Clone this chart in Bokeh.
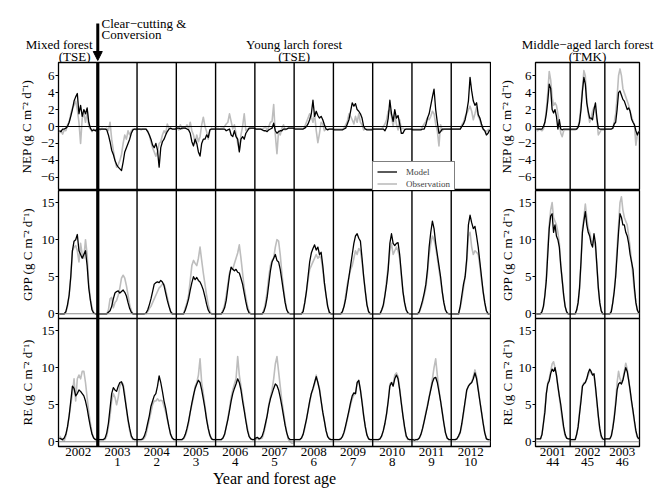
from bokeh.plotting import figure
from bokeh.models import (Range1d, LinearAxis, FixedTicker, Span, Arrow,
                          NormalHead, Legend, LegendItem)
from bokeh.core.properties import value
from bokeh.layouts import row, column
from bokeh.embed import file_html
from bokeh.resources import INLINE

FONT = "Liberation Serif"

# ---------------- data (24 semi-monthly values per year) ----------------
TSE_YEARS = [2002, 2003, 2004, 2005, 2006, 2007, 2008, 2009, 2010, 2011, 2012]
TSE_AGES = ["", "1", "2", "3", "4", "5", "6", "7", "8", "9", "10"]
TMK_YEARS = [2001, 2002, 2003]
TMK_AGES = ["44", "45", "46"]

NEP_MOD_TSE = [
    [-0.5,-0.6,-0.3,-0.3,-0.2,0.0,0.5,1.2,2.0,3.0,3.5,3.9,1.5,2.5,1.2,2.0,1.5,2.2,0.5,-0.2,-0.5,-0.4,-0.5,-0.3],
    [-0.3,-0.3,-0.3,-0.3,-0.3,-0.4,-1.0,-1.8,-2.8,-3.3,-4.0,-4.5,-4.8,-5.0,-5.2,-4.2,-3.0,-2.5,-2.0,-1.5,-0.8,-0.4,-0.3,-0.3],
    [-0.3,-0.3,-0.3,-0.3,-0.3,-0.3,-0.6,-1.0,-1.5,-2.2,-2.5,-2.0,-2.8,-4.8,-2.5,-1.8,-1.5,-1.0,-0.6,-0.3,-0.2,-0.3,-0.3,-0.3],
    [-0.2,-0.2,-0.3,-0.2,-0.2,-0.2,-0.3,-0.4,-0.8,-1.8,-2.3,-1.5,-2.0,-3.0,-3.5,-2.0,-1.5,-1.5,-1.0,-1.3,-0.4,-0.3,-0.3,-0.3],
    [-0.3,-0.3,-0.3,-0.3,-0.3,-0.3,-0.5,-0.4,-0.3,-1.0,-1.2,-0.5,-1.2,-1.5,-3.0,-1.5,-1.2,-1.5,-0.8,-0.5,-0.2,-0.2,-0.2,-0.2],
    [-0.3,-0.3,-0.3,-0.3,-0.4,-0.5,-0.5,-0.6,-0.4,-0.3,-0.2,0.4,-0.5,-0.8,-0.6,-0.5,-0.5,-0.3,-0.3,-0.3,-0.2,-0.2,-0.2,-0.2],
    [-0.3,-0.3,-0.3,-0.3,-0.3,-0.3,-0.2,0.0,0.3,0.8,1.5,3.1,1.2,1.8,1.3,1.0,1.2,0.8,0.2,-0.3,-0.4,-0.3,-0.3,-0.3],
    [-0.4,-0.4,-0.4,-0.4,-0.4,-0.4,-0.3,-0.2,0.3,0.8,1.8,2.8,2.4,2.7,2.0,1.8,1.5,1.0,0.0,-0.3,-0.4,-0.4,-0.4,-0.4],
    [-0.3,-0.3,-0.3,-0.3,-0.3,-0.3,-0.3,-0.5,-0.1,1.0,3.1,1.5,0.6,2.0,1.0,1.3,0.3,-0.8,-0.8,-0.4,-0.3,-0.3,-0.3,-0.3],
    [-0.4,-0.4,-0.4,-0.4,-0.4,-0.4,-0.3,-0.3,0.2,1.0,1.5,2.5,3.5,4.4,2.0,0.5,-0.8,-0.6,-0.3,-0.3,-0.3,-0.3,-0.3,-0.3],
    [-0.3,-0.3,-0.3,-0.3,-0.3,-0.3,0.0,0.3,0.8,1.8,3.0,5.8,4.2,3.0,2.5,2.8,1.4,1.0,0.3,-0.3,-0.5,-1.0,-0.8,-0.4],
]
NEP_OBS_TSE = [
    [-0.8,-0.5,-0.9,-0.4,-0.5,0.2,0.5,1.5,2.2,2.5,3.0,2.0,0.5,-2.0,1.0,1.5,0.5,1.8,0.0,-0.3,-0.6,-0.3,-0.5,-0.6],
    [-0.3,-0.4,-0.2,-0.3,-0.3,-0.2,-0.5,0.5,-1.5,-2.8,-4.0,-4.8,-4.5,-4.0,-3.3,-2.0,-1.0,-1.5,-0.5,-1.0,-0.5,-0.3,-0.3,-0.4],
    [-0.3,-0.3,-0.4,-0.3,-0.3,-0.3,-0.5,-1.0,-1.8,-2.5,-3.0,-3.5,-3.0,-2.0,-1.8,-1.0,-0.5,-0.8,0.3,-0.2,-0.3,-0.3,-0.3,-0.3],
    [-0.2,-0.4,0.2,-0.3,-0.1,-0.2,0.2,-0.3,0.5,-0.5,-1.0,-2.0,-1.0,-1.8,-1.2,0.2,1.1,0.0,-0.6,-1.5,-0.5,-0.2,-0.3,-0.2],
    [-0.2,-0.2,-0.3,-0.2,-0.2,0.0,0.3,0.5,1.5,0.6,-0.3,0.2,-0.8,-2.0,-2.8,-1.0,0.0,1.5,-0.5,-0.3,-0.3,-0.2,-0.2,-0.2],
    [-0.3,-0.3,-0.3,-0.3,-0.3,-0.2,0.0,-0.5,0.0,0.5,0.6,2.6,-1.0,-3.2,-0.5,-1.0,-0.2,0.2,-0.4,-0.3,-0.2,-0.2,-0.2,-0.2],
    [-0.2,-0.2,-0.2,-0.2,-0.2,-0.3,0.0,0.5,1.0,1.5,1.2,0.5,1.5,-0.5,-1.9,-0.8,0.5,0.3,-0.5,-0.3,-0.3,-0.3,-0.3,-0.3],
    [-0.3,-0.3,-0.3,-0.3,-0.3,-0.3,-0.2,0.2,0.6,1.5,1.2,0.8,0.3,1.2,0.5,1.5,0.5,0.2,-0.4,-0.3,-0.3,-0.3,-0.3,-0.3],
    [-0.3,-0.3,-0.3,-0.3,-0.3,-0.3,0.0,0.3,0.8,1.8,2.0,1.2,0.0,1.5,0.3,-0.4,0.8,-0.3,-0.2,-0.3,-0.3,-0.3,-0.3,-0.3],
    [-0.3,-0.3,-0.3,-0.3,-0.3,-0.3,0.0,0.3,0.6,1.0,0.8,1.2,1.8,1.5,0.3,-0.5,-2.3,0.2,-0.5,-0.3,-0.3,-0.3,-0.3,-0.3],
    [-0.3,-0.3,-0.3,-0.3,-0.3,-0.3,0.2,0.5,1.2,1.5,2.0,2.4,1.8,0.8,1.5,2.3,1.2,0.8,0.0,-0.3,-0.5,-0.6,-0.4,-0.3],
]
GPP_MOD_TSE = [
    [0,0,0,0,0.3,1.2,2.5,5.0,8.5,9.8,10.0,10.7,8.5,8.0,7.5,8.0,8.5,6.5,3.5,1.8,0.5,0.1,0,0],
    [0,0,0,0,0,0,0.2,0.4,1.0,2.0,2.8,3.0,3.1,2.8,3.0,3.2,2.9,2.4,1.5,0.7,0.2,0,0,0],
    [0,0,0,0,0,0.1,0.5,1.2,2.0,3.0,4.0,4.2,4.3,4.2,4.5,4.3,3.8,2.8,1.8,1.0,0.3,0,0,0],
    [0,0,0,0,0,0.5,1.2,2.0,3.2,4.2,5.0,4.6,4.9,4.5,4.3,3.8,3.2,2.3,1.3,0.5,0.1,0,0,0],
    [0,0,0,0,0.3,0.8,1.8,3.5,5.2,6.3,6.0,5.8,6.0,5.6,5.5,4.8,4.0,2.8,1.6,0.6,0.1,0,0,0],
    [0,0,0,0,0,0.3,1.0,2.2,4.0,5.8,7.0,7.5,8.0,7.2,7.0,6.0,4.5,3.0,1.5,0.5,0.1,0,0,0],
    [0,0,0,0,0,0.3,1.5,3.0,5.0,7.0,8.2,8.8,9.3,8.6,9.0,8.0,8.3,6.5,4.2,2.5,1.0,0.2,0,0],
    [0,0,0,0,0,0.3,1.0,2.0,3.5,5.0,6.5,8.0,9.5,10.5,10.8,10.2,9.8,7.5,5.0,3.0,1.2,0.3,0,0],
    [0,0,0,0,0,0.5,1.2,2.5,4.0,6.0,9.5,10.8,9.5,9.2,9.5,9.6,8.0,5.5,3.0,1.5,0.5,0.1,0,0],
    [0,0,0,0,0.3,1.0,1.8,2.8,4.0,6.0,9.0,11.0,12.5,11.5,9.5,8.0,6.5,5.0,3.0,1.5,0.5,0.1,0,0],
    [0,0,0,0,0,1.0,2.5,4.0,5.0,7.5,12.0,13.3,12.3,11.5,11.8,10.5,9.0,7.0,5.0,3.0,1.5,0.4,0,0],
]
GPP_OBS_TSE = [
    [0,0,0,0,0.2,1.0,2.5,5.0,8.5,9.0,9.2,8.5,7.0,9.5,8.0,7.5,10.0,8.0,4.0,2.0,0.8,0.1,0,0],
    [0,0,0,0,0,0,0.5,2.0,2.2,0.8,1.5,1.8,2.5,3.5,4.8,5.2,4.8,3.8,2.5,1.2,0.4,0,0,0],
    [0,0,0,0,0,0,0.3,0.7,1.0,1.5,2.0,2.5,3.0,3.5,3.7,4.0,4.0,3.2,2.2,1.2,0.4,0,0,0],
    [0,0,0,0,0,0.8,1.5,2.5,4.5,6.5,7.2,6.8,6.5,7.5,9.0,7.2,5.5,4.0,2.5,1.2,0.3,0,0,0],
    [0,0,0,0,0.5,1.2,2.5,4.0,5.5,6.2,6.0,6.8,7.5,8.2,9.3,7.5,5.5,3.5,2.2,1.0,0.3,0,0,0],
    [0,0,0,0,0,0.5,1.5,3.0,5.0,6.5,7.2,7.5,9.0,10.0,9.8,8.0,5.5,3.5,1.8,0.6,0.1,0,0,0],
    [0,0,0,0,0,0.5,1.5,3.0,4.5,6.0,6.5,7.0,7.5,8.0,7.5,7.8,7.5,6.0,4.0,2.5,1.0,0.2,0,0],
    [0,0,0,0,0,0.3,1.0,2.5,4.0,5.0,6.0,6.5,7.5,8.5,8.0,8.8,8.5,7.0,5.0,3.0,1.2,0.3,0,0],
    [0,0,0,0,0,0.5,1.0,2.5,4.5,6.5,8.5,9.5,8.0,8.5,9.0,8.5,7.5,5.0,3.0,1.5,0.5,0.1,0,0],
    [0,0,0,0,0.2,0.8,1.5,2.5,3.5,5.5,8.0,9.5,10.5,10.0,9.0,7.5,6.0,4.5,3.0,1.5,0.5,0.1,0,0],
    [0,0,0,0,0,0.8,2.0,3.5,5.0,7.0,10.5,11.0,9.0,8.0,8.5,8.3,8.0,6.5,4.5,3.0,1.5,0.4,0,0],
]
RE_MOD_TSE = [
    [0.5,0.4,0.3,0.5,1.0,2.0,3.5,5.5,7.5,7.2,6.2,6.5,7.0,6.8,6.5,6.2,5.5,4.5,3.2,2.0,1.0,0.5,0.3,0.3],
    [0.3,0.3,0.3,0.3,0.5,1.2,2.5,4.5,6.5,7.3,7.0,6.8,7.5,8.0,8.1,7.5,6.0,4.5,3.0,1.8,0.8,0.4,0.3,0.3],
    [0.3,0.3,0.3,0.4,0.8,1.5,2.5,3.5,4.8,5.5,6.2,6.5,7.5,8.9,8.0,6.8,5.5,4.5,3.2,2.0,1.0,0.5,0.3,0.3],
    [0.3,0.3,0.3,0.3,0.5,1.0,1.8,2.8,4.0,5.2,6.3,7.2,7.8,8.3,8.0,7.0,5.8,4.5,3.0,1.8,0.9,0.4,0.3,0.3],
    [0.3,0.3,0.3,0.3,0.5,1.0,2.0,3.0,4.2,5.5,6.5,7.2,7.8,8.5,8.0,7.0,5.5,4.2,2.8,1.5,0.7,0.4,0.3,0.3],
    [0.5,0.6,0.4,0.5,0.8,1.5,2.5,3.5,4.8,5.8,6.5,7.2,7.8,7.6,7.0,6.0,4.8,3.5,2.2,1.2,0.5,0.3,0.3,0.3],
    [0.3,0.3,0.3,0.3,0.5,1.0,2.0,3.0,4.2,5.5,6.5,7.2,8.0,8.8,8.0,7.0,5.5,4.0,2.8,1.5,0.7,0.4,0.3,0.3],
    [0.3,0.3,0.3,0.3,0.4,0.7,1.3,2.2,3.2,4.2,5.3,6.2,6.6,6.5,8.0,8.3,7.0,5.3,3.5,2.0,0.9,0.4,0.3,0.3],
    [0.3,0.3,0.3,0.3,0.4,0.8,1.5,2.5,3.8,5.5,7.5,8.0,7.5,8.5,9.0,8.5,7.0,5.2,3.5,2.0,0.8,0.4,0.3,0.3],
    [0.3,0.2,0.3,0.3,0.5,1.0,1.8,2.8,3.8,4.8,6.0,7.0,8.0,8.6,8.7,8.0,6.8,5.5,4.0,2.5,1.2,0.5,0.3,0.3],
    [0.3,0.3,0.3,0.4,0.8,1.3,2.5,4.0,5.5,7.0,7.5,7.8,8.0,8.5,9.3,8.5,7.0,5.5,4.0,2.5,1.2,0.4,0.3,0.3],
]
RE_OBS_TSE = [
    [0.8,0.5,0.2,0.1,0.8,2.0,3.5,5.0,6.5,8.5,5.5,8.5,9.0,8.5,9.5,9.5,8.0,6.0,4.0,2.5,1.2,0.5,0.3,0.4],
    [0.3,0.3,0.3,0.3,0.3,0.8,2.0,3.5,5.5,6.5,6.0,5.0,6.0,7.5,8.0,7.8,6.5,4.5,2.8,1.5,0.6,0.3,0.3,0.3],
    [0.3,0.3,0.3,0.3,0.5,1.0,2.0,3.0,4.0,5.0,5.5,5.5,5.8,5.5,5.6,5.5,4.8,4.0,3.0,2.0,1.0,0.5,0.3,0.3],
    [0.3,0.3,0.3,0.3,0.4,0.8,1.5,2.5,4.0,5.0,6.0,7.5,8.0,9.0,11.2,8.0,6.5,4.8,3.2,1.8,0.8,0.4,0.3,0.3],
    [0.3,0.3,0.3,0.3,0.5,1.0,2.0,3.2,4.5,6.0,7.0,7.8,8.5,11.5,9.0,7.5,6.0,4.5,3.0,1.8,0.8,0.4,0.3,0.3],
    [0.3,0.5,0.3,0.4,0.5,1.2,2.2,3.5,5.0,6.0,7.0,8.5,10.5,11.5,9.5,7.5,5.5,4.0,2.5,1.2,0.3,0.0,-0.2,-0.2],
    [0.3,0.3,0.3,0.3,0.5,1.0,1.8,3.0,4.2,5.3,6.5,7.0,7.8,9.0,8.0,7.2,5.5,4.0,2.8,1.5,0.7,0.4,0.3,0.3],
    [0.3,0.3,0.3,0.3,0.4,0.7,1.2,2.0,3.0,4.0,5.0,5.8,6.3,6.5,7.8,8.2,7.0,5.5,3.5,2.0,0.9,0.4,0.3,0.3],
    [0.3,0.3,0.3,0.3,0.4,0.8,1.5,2.5,3.8,5.5,7.8,8.0,7.8,9.0,9.3,8.8,7.2,5.3,3.5,1.8,0.7,0.3,0.3,0.3],
    [0.3,0.3,0.3,0.3,0.5,1.0,1.8,2.8,4.0,5.0,6.0,7.2,8.5,10.0,11.2,9.0,7.0,5.5,4.0,2.5,1.2,0.5,0.3,0.3],
    [0.3,0.3,0.3,0.4,0.7,1.2,2.3,3.8,5.3,7.0,7.5,7.8,8.0,8.8,9.7,8.8,7.2,5.5,4.0,2.5,1.2,0.4,0.3,0.3],
]

NEP_MOD_TMK = [
    [-0.3,-0.3,-0.3,-0.3,-0.3,0.0,0.5,1.5,3.0,5.0,4.5,2.0,1.6,2.0,1.2,-0.3,0.8,-0.3,-0.4,-0.3,-0.3,-0.3,-0.3,-0.3],
    [-0.3,-0.3,-0.3,-0.3,-0.3,-0.1,0.5,2.0,4.2,5.8,5.0,2.8,1.8,1.0,1.0,0.8,2.0,2.8,1.0,-0.2,-0.3,-0.3,-0.3,-0.3],
    [-0.3,-0.3,-0.3,-0.3,-0.3,-0.2,0.3,0.5,2.0,4.0,4.2,3.7,3.2,3.0,2.5,2.0,2.2,1.8,0.9,0.5,0.2,-0.5,-1.0,-0.6],
]
NEP_OBS_TMK = [
    [-0.4,-0.5,-0.3,-0.4,-0.5,-0.3,0.5,2.0,4.0,6.5,5.5,3.5,2.5,2.8,2.5,1.5,0.5,-0.8,-1.2,-0.5,-0.4,-0.4,-0.4,-0.4],
    [-0.4,-0.4,-0.4,-0.4,-0.3,0.0,0.8,2.5,4.5,6.6,6.0,3.0,1.5,0.5,1.0,1.8,2.3,2.0,0.8,-1.0,-0.7,-0.4,-0.4,-0.4],
    [-0.3,-0.3,-0.3,-0.3,-0.3,-0.2,0.5,1.5,3.5,6.0,6.8,6.0,4.5,4.0,3.5,3.0,2.5,1.8,1.2,0.6,0.2,-2.2,-1.0,-0.5],
]
GPP_MOD_TMK = [
    [0,0,0,0,0.3,1.0,2.5,4.5,8.0,11.5,13.2,13.5,11.0,12.0,10.5,10.0,9.0,6.5,4.5,2.5,1.0,0.3,0,0],
    [0,0,0,0,0.5,1.5,3.5,7.0,11.0,12.5,13.8,12.0,11.0,10.5,9.5,9.0,10.8,9.5,6.5,3.5,1.5,0.4,0,0],
    [0,0,0,0,0.3,1.5,3.0,5.0,8.0,11.0,13.5,13.0,12.0,12.0,11.0,10.5,9.5,8.0,7.0,6.0,3.5,1.5,0.5,0.1],
]
GPP_OBS_TMK = [
    [0,0,0,0,0.3,1.0,2.5,5.0,9.0,12.0,14.0,15.0,13.0,12.5,12.0,11.0,9.5,6.5,4.5,2.5,1.0,0.3,0,0],
    [0,0,0,0,0.5,1.5,3.5,7.0,11.5,13.0,14.8,13.0,11.5,11.0,10.0,9.5,10.0,9.0,6.5,3.5,1.5,0.4,0,0],
    [0,0,0,0,0.5,1.5,3.0,5.5,9.0,12.0,15.0,15.8,14.0,13.0,12.5,12.0,10.5,9.0,7.0,5.0,3.0,1.5,0.5,0.1],
]
RE_MOD_TMK = [
    [0.4,0.4,0.4,0.4,1.0,2.5,4.0,6.5,7.8,8.2,9.2,9.8,9.5,10.0,9.0,7.5,6.2,5.0,3.5,2.0,1.0,0.5,0.4,0.4],
    [0.3,0.3,0.3,0.3,1.0,2.0,3.8,5.5,7.5,7.8,8.0,8.5,9.3,9.8,9.5,9.0,9.2,7.5,5.5,3.5,1.8,0.8,0.4,0.3],
    [0.4,0.4,0.4,0.4,0.8,1.8,3.2,5.0,7.0,7.8,8.0,7.8,8.3,9.2,10.0,9.5,8.3,7.0,5.5,4.2,2.8,1.5,0.7,0.4],
]
RE_OBS_TMK = [
    [0.4,0.4,0.4,0.4,1.0,2.5,4.5,6.5,8.0,8.5,9.5,10.5,10.8,10.0,9.0,7.5,6.0,4.5,3.0,1.8,0.8,0.5,0.4,0.4],
    [0.3,0.3,0.3,0.3,1.0,2.0,4.0,6.0,7.5,8.0,8.0,8.5,9.0,9.5,9.3,9.0,9.0,7.3,5.3,3.3,1.6,0.6,0.3,0.3],
    [0.4,0.4,0.4,0.4,0.8,2.0,3.5,5.5,8.0,9.5,8.5,8.0,8.5,9.5,10.6,9.8,8.5,6.8,5.3,4.0,2.6,1.3,0.6,0.3],
]

NEP_TICKS = [-6, -4, -2, 0, 2, 4, 6]
FLUX_TICKS = [0, 5, 10, 15]
NEP_LABEL = "NEP (g C m\u207b\u00b2 d\u207b\u00b9)"
GPP_LABEL = "GPP (g C m\u207b\u00b2 d\u207b\u00b9)"
RE_LABEL = "RE (g C m\u207b\u00b2 d\u207b\u00b9)"

# ---------------- styling / geometry ----------------
MOD_COLOR = "black"
OBS_COLOR = "#bdbdbd"
FH = 128
TITLE_H = 67          # title strip; its lowest 6 px lie under the NEP row
TITLE_OVERLAP = 6
BOT_B = 44
NEP_LIM = (-7.56, 7.56)
FLUX_LIM = (-0.64, 16.64)
GEOM = {  # frame width, x range, left border, right border, y-label standoff
    "TSE": (432, 2002, 2013, 58, 1, 4),
    "TMK": (104, 2001, 2004, 44, 15, 1),
}


def series_xy(years, values):
    xs, ys = [], []
    for yr, vals in zip(years, values):
        n = len(vals)
        for i, v in enumerate(vals):
            xs.append(yr + (i + 0.5) / n)
            ys.append(v)
    return xs, ys


def add_y_axis(p, ticks, label, overrides, standoff):
    ax = LinearAxis(ticker=FixedTicker(ticks=ticks), axis_label=label)
    ax.major_label_overrides = overrides
    ax.axis_line_color = None
    ax.major_tick_line_color = "black"
    ax.major_tick_in = 0
    ax.major_tick_out = 3
    ax.minor_tick_line_color = None
    ax.major_label_standoff = 1
    ax.major_label_text_font = FONT
    ax.major_label_text_font_size = "13px"
    ax.major_label_text_color = "black"
    ax.axis_label_text_font = FONT
    ax.axis_label_text_font_size = "13px"
    ax.axis_label_text_font_style = "normal"
    ax.axis_label_text_color = "black"
    ax.axis_label_standoff = standoff
    p.add_layout(ax, "left")


def add_x_axes(p, years, ages, title=None):
    ax1 = LinearAxis(ticker=FixedTicker(ticks=[y + 0.5 for y in years]))
    ax1.major_label_overrides = {y + 0.5: str(y) for y in years}
    ticks2 = [y + 0.5 for y, a in zip(years, ages) if a]
    ax2 = LinearAxis(ticker=FixedTicker(ticks=ticks2))
    ax2.major_label_overrides = {y + 0.5: a for y, a in zip(years, ages) if a}
    for ax, so in ((ax1, 1), (ax2, -1)):
        ax.axis_line_color = None
        ax.major_tick_line_color = None
        ax.minor_tick_line_color = None
        ax.major_tick_in = 0
        ax.major_tick_out = 0
        ax.major_label_standoff = so
        ax.major_label_text_font = FONT
        ax.major_label_text_font_size = "13px"
        ax.major_label_text_color = "black"
    if title:
        ax2.axis_label = title
        ax2.axis_label_text_font = FONT
        ax2.axis_label_text_font_size = "16px"
        ax2.axis_label_text_font_style = "normal"
        ax2.axis_label_text_color = "black"
        ax2.axis_label_standoff = 1
    p.add_layout(ax1, "below")
    p.add_layout(ax2, "below")


def make_panel(group, kind, years, mod, obs, pos):
    fw, x0, x1, bl, br, ylab_std = GEOM[group]
    ylim = NEP_LIM if kind == "NEP" else FLUX_LIM
    p = figure(x_range=Range1d(x0, x1), y_range=Range1d(*ylim),
               frame_width=fw, frame_height=FH,
               min_border_left=bl, min_border_right=br,
               min_border_top=1 if pos == "top" else 0,
               min_border_bottom={"top": 0, "mid": 4, "bottom": BOT_B}[pos],
               x_axis_location=None, y_axis_location=None,
               toolbar_location=None, output_backend="svg")
    p.xgrid.visible = False
    p.ygrid.visible = False
    p.outline_line_color = "black"
    p.outline_line_width = 1.3
    p.background_fill_color = "white"
    p.border_fill_alpha = 0

    if kind == "NEP":
        add_y_axis(p, NEP_TICKS, NEP_LABEL, {-6: "\u22126", -4: "\u22124", -2: "\u22122"}, ylab_std)
        p.add_layout(Span(location=0, dimension="width", line_color="black", line_width=1.1))
    else:
        add_y_axis(p, FLUX_TICKS, GPP_LABEL if kind == "GPP" else RE_LABEL, {}, ylab_std)
        p.add_layout(Span(location=0, dimension="width", line_color="#8c8c8c", line_width=1.0))

    for yr in years[1:]:
        lw = 3.2 if (group == "TSE" and yr == 2003) else 1.4
        p.add_layout(Span(location=yr, dimension="height", line_color="black", line_width=lw))

    xo, yo = series_xy(years, obs)
    xm, ym = series_xy(years, mod)
    r_obs = p.line(xo, yo, line_color=OBS_COLOR, line_width=1.6, line_join="round")
    r_mod = p.line(xm, ym, line_color=MOD_COLOR, line_width=1.3, line_join="round")

    if pos == "bottom":
        add_x_axes(p, years, TSE_AGES if group == "TSE" else TMK_AGES,
                   "Year and forest age" if group == "TSE" else None)
    return p, r_mod, r_obs


def title_fig(group):
    fw, x0, x1, bl, br, _ = GEOM[group]
    ppy = fw / (x1 - x0)
    xr = Range1d(x0 - bl / ppy, x1 + br / ppy)
    # y = pixels above the top edge of the NEP frame (which sits TITLE_OVERLAP+1 px above the strip bottom)
    y0 = -(TITLE_OVERLAP + 1)
    p = figure(x_range=xr, y_range=Range1d(y0, y0 + TITLE_H),
               frame_width=fw + bl + br, frame_height=TITLE_H,
               min_border_left=0, min_border_right=0, min_border_top=0, min_border_bottom=0,
               x_axis_location=None, y_axis_location=None,
               toolbar_location=None, output_backend="svg")
    p.xgrid.visible = False
    p.ygrid.visible = False
    p.outline_line_color = None
    p.background_fill_alpha = 0
    p.border_fill_alpha = 0
    return p


def add_texts(p, xs, ys, texts, align):
    p.text(x=xs, y=ys, text=texts, text_align=align, text_baseline="alphabetic",
           text_font=value(FONT), text_font_size=value("13px"), text_color="black")


tl, rm, ro = make_panel("TSE", "NEP", TSE_YEARS, NEP_MOD_TSE, NEP_OBS_TSE, "top")
ml, _, _ = make_panel("TSE", "GPP", TSE_YEARS, GPP_MOD_TSE, GPP_OBS_TSE, "mid")
bl, _, _ = make_panel("TSE", "RE", TSE_YEARS, RE_MOD_TSE, RE_OBS_TSE, "bottom")
tr, _, _ = make_panel("TMK", "NEP", TMK_YEARS, NEP_MOD_TMK, NEP_OBS_TMK, "top")
mr, _, _ = make_panel("TMK", "GPP", TMK_YEARS, GPP_MOD_TMK, GPP_OBS_TMK, "mid")
br, _, _ = make_panel("TMK", "RE", TMK_YEARS, RE_MOD_TMK, RE_OBS_TMK, "bottom")

# titles above the panels
ttl = title_fig("TSE")
ttr = title_fig("TMK")
add_texts(ttl, [2002.866, 2002.815], [16.5, 4.5], ["Mixed forest", "(TSE)"], "right")
add_texts(ttl, [2003.095, 2003.095], [37.5, 26.5], ["Clear\u2212cutting &", "Conversion"], "left")
add_texts(ttl, [2008.0, 2008.0], [16.5, 4.5], ["Young larch forest", "(TSE)"], "center")
add_texts(ttr, [2002.5, 2002.5], [16.5, 4.5], ["Middle\u2212aged larch forest", "(TMK)"], "center")
ttl.add_layout(Arrow(end=NormalHead(size=9, fill_color="black", line_color="black", line_width=1),
                     x_start=2003, y_start=37, x_end=2003, y_end=0,
                     line_color="black", line_width=3))

legend = Legend(items=[LegendItem(label="Model", renderers=[rm]),
                       LegendItem(label="Observation", renderers=[ro])],
                location=(314, -4), margin=0, padding=4, spacing=1,
                label_text_font=FONT, label_text_font_size="9px",
                label_height=11, glyph_height=11, glyph_width=20, label_standoff=9,
                border_line_color="black", border_line_width=1,
                background_fill_color="white", background_fill_alpha=1.0)
tl.add_layout(legend)

layout = column(row(ttl, ttr),
                row(tl, tr, margin=(-TITLE_OVERLAP, 0, 0, 0)),
                row(ml, mr),
                row(bl, br, margin=(-4, 0, 0, 0)))

with open("out.html", "w") as f:
    f.write(file_html(layout, INLINE, "NEP GPP RE"))
